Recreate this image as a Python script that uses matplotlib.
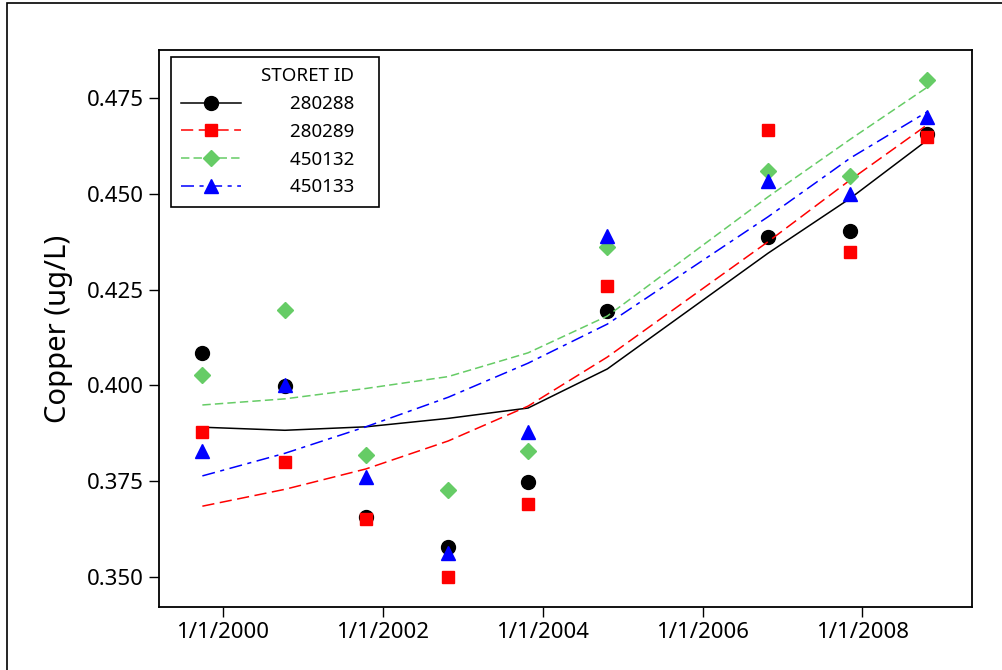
import datetime as dt
import matplotlib
matplotlib.use("Agg")
import matplotlib.pyplot as plt
from matplotlib.lines import Line2D
from matplotlib.patches import Rectangle

plt.rcParams['font.family'] = ['Noto Sans', 'DejaVu Sans']

# sampling dates (one per year, autumn)
dates = [dt.datetime(1999, 10, 1), dt.datetime(2000, 10, 12), dt.datetime(2001, 10, 16),
         dt.datetime(2002, 10, 27), dt.datetime(2003, 10, 27), dt.datetime(2004, 10, 23),
         dt.datetime(2006, 10, 27), dt.datetime(2007, 11, 6), dt.datetime(2008, 10, 23)]

station_ids = ["280288", "280289", "450132", "450133"]

# measured copper (ug/L)
cu_280288 = [0.4085, 0.3998, 0.3657, 0.3579, 0.3748, 0.4195, 0.4386, 0.4404, 0.4656]
cu_280289 = [0.3878, 0.3801, 0.3651, 0.3500, 0.3691, 0.4260, 0.4666, 0.4347, 0.4647]
cu_450132 = [0.4027, 0.4197, 0.3818, 0.3728, 0.3829, 0.4360, 0.4560, 0.4547, 0.4797]
cu_450133 = [0.3830, 0.4001, 0.3762, 0.3562, 0.3878, 0.4391, 0.4532, 0.4500, 0.4701]

# smoothed fit lines
fit_280288 = [0.3891, 0.3883, 0.3892, 0.3914, 0.3941, 0.4043, 0.4345, 0.4488, 0.4640]
fit_280289 = [0.3685, 0.3729, 0.3782, 0.3855, 0.3946, 0.4074, 0.4375, 0.4536, 0.4680]
fit_450132 = [0.3949, 0.3965, 0.3992, 0.4023, 0.4085, 0.4181, 0.4492, 0.4642, 0.4778]
fit_450133 = [0.3764, 0.3823, 0.3892, 0.3969, 0.4058, 0.4160, 0.4440, 0.4593, 0.4714]

measured = [cu_280288, cu_280289, cu_450132, cu_450133]
fits = [fit_280288, fit_280289, fit_450132, fit_450133]
colors = ["black", "#FF0000", "#66CC66", "#0000FF"]
markers = ["o", "s", "D", "^"]
msizes = [10, 9, 8, 10]
dashes = [None, (8, 3.6), (5.5, 2.7), (8.5, 3.6, 2.7, 3.6)]

yticks = [0.350, 0.375, 0.400, 0.425, 0.450, 0.475]
xtick_years = [2000, 2002, 2004, 2006, 2008]

fig = plt.figure(figsize=(10.03, 6.70), dpi=100)
ax = fig.add_axes([159 / 1003, 1 - 607 / 670, 813 / 1003, 557 / 670])

handles = []
for vals, fit, c, m, ms, d in zip(measured, fits, colors, markers, msizes, dashes):
    ln, = ax.plot(dates, fit, color=c, lw=1.1)
    if d is not None:
        ln.set_dashes(d)
    ax.plot(dates, vals, ls="none", marker=m, ms=ms, color=c, mec=c)
    h = Line2D([], [], color=c, lw=1.1, marker=m, ms=ms, mec=c)
    if d is not None:
        h.set_dashes(d)
    handles.append(h)

ax.set_xlim(dt.datetime(1999, 3, 17), dt.datetime(2009, 5, 15))
ax.set_ylim(0.3422, 0.4875)
ax.set_yticks(yticks)
ax.set_yticklabels(["%.3f" % v for v in yticks])
ax.set_xticks([dt.datetime(y, 1, 1) for y in xtick_years])
ax.set_xticklabels(["1/1/%d" % y for y in xtick_years])

ax.tick_params(direction="out", length=7, width=1.0, labelsize=16, pad=4, colors="black")
for s in ax.spines.values():
    s.set_linewidth(1.3)
ax.set_ylabel("Copper (ug/L)", fontsize=21, labelpad=10)

# trailing spaces leave the extra room on the right of the legend box
pad = "   "
leg = ax.legend(handles, [s + pad for s in station_ids], title="STORET ID" + pad,
                loc="upper left",
                bbox_to_anchor=((171 - 159) / 813, (607 - 57) / 557),
                borderaxespad=0, fontsize=13.5, title_fontsize=13.5, alignment="right",
                numpoints=1, handlelength=3.2, handletextpad=2.6, labelspacing=0.52,
                borderpad=0.55, fancybox=False, edgecolor="black", framealpha=1)
leg.get_frame().set_linewidth(1.2)

# outer border of the graph window
fig.add_artist(Rectangle((7 / 1003, -0.1), 1.2, 1.1 - 3 / 670, transform=fig.transFigure,
                         fill=False, lw=1.2, edgecolor="black"))

fig.savefig("out.png", dpi=100)
